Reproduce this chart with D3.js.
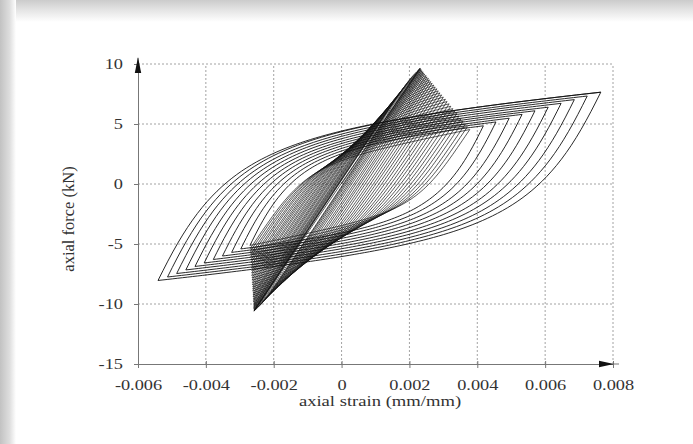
<!DOCTYPE html>
<html>
<head>
<meta charset="utf-8">
<script src="https://cdn.jsdelivr.net/npm/d3@7"></script>
<style>
  body { margin: 0; background: #fff; }
  svg { display: block; }
  text { font-family: "Liberation Serif", "Times New Roman", serif; }
</style>
</head>
<body>
<svg id="chart" width="693" height="444"></svg>
<script>
// ---- axis ticks ----
const xTicks = [-0.006, -0.004, -0.002, 0, 0.002, 0.004, 0.006, 0.008];
const xTickLabels = ["-0.006", "-0.004", "-0.002", "0", "0.002", "0.004", "0.006", "0.008"];
const yTicks = [-15, -10, -5, 0, 5, 10];
const yTickLabels = ["-15", "-10", "-5", "0", "5", "10"];

// ---- reversal points of the stiff cycles (strain mm/mm, force kN) ----
const cycleUpperStrain = [0.00231, 0.00232, 0.00233, 0.00235, 0.00237, 0.00240, 0.00242, 0.00245, 0.00249, 0.00252,
  0.00256, 0.00259, 0.00263, 0.00267, 0.00272, 0.00276, 0.00281, 0.00285, 0.00290, 0.00295,
  0.00300, 0.00306, 0.00311, 0.00317, 0.00322, 0.00328, 0.00334, 0.00340, 0.00346, 0.00352,
  0.00358, 0.00365, 0.00371, 0.00378];
const cycleUpperForce = [9.65, 9.62, 9.57, 9.51, 9.43, 9.35, 9.25, 9.15, 9.04, 8.92,
  8.80, 8.67, 8.53, 8.39, 8.24, 8.08, 7.93, 7.76, 7.59, 7.42,
  7.24, 7.06, 6.87, 6.68, 6.48, 6.28, 6.08, 5.87, 5.66, 5.44,
  5.22, 5.00, 4.77, 4.54];
const cycleLowerStrain = [-0.00258, -0.00258, -0.00258, -0.00258, -0.00259, -0.00259, -0.00259, -0.00259, -0.00259, -0.00260,
  -0.00260, -0.00260, -0.00261, -0.00261, -0.00261, -0.00262, -0.00262, -0.00262, -0.00263, -0.00263,
  -0.00264, -0.00264, -0.00265, -0.00265, -0.00265, -0.00266, -0.00266, -0.00267, -0.00267, -0.00268,
  -0.00268, -0.00269, -0.00269, -0.00270];
const cycleLowerForce = [-10.60, -10.57, -10.52, -10.45, -10.37, -10.28, -10.18, -10.06, -9.95, -9.82,
  -9.69, -9.55, -9.40, -9.25, -9.09, -8.92, -8.75, -8.57, -8.39, -8.21,
  -8.01, -7.82, -7.62, -7.41, -7.20, -6.99, -6.77, -6.54, -6.32, -6.09,
  -5.85, -5.61, -5.37, -5.12];

// ---- reversal points of the growing-amplitude loops ----
const loopUpperStrain = [0.00418, 0.00455, 0.00494, 0.00532, 0.00570, 0.00609, 0.00647, 0.00686, 0.00724, 0.00764];
const loopUpperForce = [4.85, 5.17, 5.48, 5.80, 6.10, 6.40, 6.72, 7.03, 7.33, 7.65];
const loopLowerStrain = [-0.00297, -0.00324, -0.00351, -0.00378, -0.00405, -0.00432, -0.00459, -0.00486, -0.00513, -0.00541];
const loopLowerForce = [-5.41, -5.70, -6.00, -6.29, -6.58, -6.87, -7.16, -7.46, -7.75, -8.04];

// ---- branch stiffness (kN per unit strain) and transition sharpness ----
const cycleBranch = { E: 4141, Eh: 550, R: 2.4, k: 1.2 };
const loopBranch = { E: 5500, Eh: 250, R: 1.6, k: 0 };

const svg = d3.select("#chart");
const W = 693, H = 444;
const SERIF = "'Liberation Serif', 'Times New Roman', serif";
const FONT = 15;

// stretch a text horizontally to the wider print proportions
function widen(sel, f) {
  sel.each(function () {
    const w = this.getComputedTextLength();
    this.setAttribute("textLength", (w * f).toFixed(2));
    this.setAttribute("lengthAdjust", "spacingAndGlyphs");
  });
}

// ---- page frame shading ----
const defs = svg.append("defs");
const gTop = defs.append("linearGradient").attr("id", "shadeTop").attr("x1", 0).attr("y1", 0).attr("x2", 0).attr("y2", 1);
gTop.append("stop").attr("offset", 0).attr("stop-color", "#cbcbcb");
gTop.append("stop").attr("offset", 0.45).attr("stop-color", "#e4e4e4");
gTop.append("stop").attr("offset", 1).attr("stop-color", "#ffffff");
const gLeft = defs.append("linearGradient").attr("id", "shadeLeft").attr("x1", 0).attr("y1", 0).attr("x2", 1).attr("y2", 0);
gLeft.append("stop").attr("offset", 0).attr("stop-color", "#c2c2c2");
gLeft.append("stop").attr("offset", 0.6).attr("stop-color", "#dedede");
gLeft.append("stop").attr("offset", 1).attr("stop-color", "#ffffff");
svg.append("rect").attr("width", W).attr("height", H).attr("fill", "#fff");
svg.append("rect").attr("x", 0).attr("y", 0).attr("width", W).attr("height", 22).attr("fill", "url(#shadeTop)");
svg.append("rect").attr("x", 0).attr("y", 0).attr("width", 16).attr("height", H).attr("fill", "url(#shadeLeft)");

// ---- scales ----
const x = d3.scaleLinear().domain([-0.006, 0.008]).range([138, 613]);
const y = d3.scaleLinear().domain([-15, 10]).range([364, 64]);

// ---- dashed grid ----
const grid = svg.append("g").attr("stroke", "#8c8c8c").attr("stroke-width", 0.8).attr("stroke-dasharray", "2,2");
grid.selectAll(".gx").data(xTicks.slice(1)).join("line")
  .attr("x1", d => x(d)).attr("x2", d => x(d)).attr("y1", y(-15)).attr("y2", y(10));
grid.selectAll(".gy").data(yTicks.slice(1)).join("line")
  .attr("x1", x(-0.006)).attr("x2", x(0.008)).attr("y1", d => y(d)).attr("y2", d => y(d));

// ---- hysteresis branch between two reversal points ----
// elastic start, smooth transition onto a hardening line that reaches the target
function branchPoints(a, b, p) {
  const ds = b[0] - a[0], dF = b[1] - a[1];
  const Ds = Math.abs(ds), DF = Math.abs(dF);
  const xk = (DF - p.Eh * Ds) / (p.E - p.Eh);
  if (!(xk > 0) || Ds <= xk) return [a, b];
  const e = Ds / xk, bh = p.Eh / p.E, R = p.R + p.k / (e - 1 + 0.05);
  const sig = t => bh * t + (1 - bh) * t / Math.pow(1 + Math.pow(t, R), 1 / R);
  const se = sig(e);
  const pts = [];
  const n = 90;
  for (let i = 0; i <= n; i++) {
    const u = i / n;
    pts.push([a[0] + ds * u, a[1] + dF * sig(u * e) / se]);
  }
  return pts;
}

// reversal sequence: stiff cycles first, then the growing loops
const cycleSeq = [[0, 0]];
cycleUpperStrain.forEach((s, i) => {
  cycleSeq.push([s, cycleUpperForce[i]]);
  cycleSeq.push([cycleLowerStrain[i], cycleLowerForce[i]]);
});
const loopSeq = [cycleSeq[cycleSeq.length - 1]];
loopUpperStrain.forEach((s, i) => {
  loopSeq.push([s, loopUpperForce[i]]);
  loopSeq.push([loopLowerStrain[i], loopLowerForce[i]]);
});
loopSeq.push([loopUpperStrain[loopUpperStrain.length - 1], loopUpperForce[loopUpperForce.length - 1]]);

function tracePath(seq, p) {
  const out = [];
  for (let i = 0; i < seq.length - 1; i++) {
    const pts = branchPoints(seq[i], seq[i + 1], p);
    if (i > 0) pts.shift();
    out.push(...pts);
  }
  return out;
}

const line = d3.line().x(d => x(d[0])).y(d => y(d[1]));
const curves = svg.append("g").attr("fill", "none").attr("stroke", "#111").attr("stroke-linejoin", "round");
curves.append("path").attr("stroke-width", 0.9).attr("d", line(tracePath(loopSeq, loopBranch)));
curves.append("path").attr("stroke-width", 0.7).attr("d", line(tracePath(cycleSeq, cycleBranch)));

// ---- axes ----
const xAxis = svg.append("g").attr("transform", `translate(0,${y(-15)})`)
  .call(d3.axisBottom(x).tickValues(xTicks).tickFormat((d, i) => xTickLabels[i]).tickSize(4).tickSizeOuter(0));
xAxis.select(".domain").attr("stroke", "#777");
xAxis.selectAll(".tick line").attr("stroke", "#777").attr("y1", -3);
xAxis.selectAll(".tick text").attr("y", 26).attr("dy", 0).attr("font-size", FONT).attr("fill", "#333")
  .style("font-family", SERIF).call(widen, 1.22);

const yAxis = svg.append("g").attr("transform", `translate(${x(-0.006)},0)`)
  .call(d3.axisLeft(y).tickValues(yTicks).tickFormat((d, i) => yTickLabels[i]).tickSize(4).tickSizeOuter(0).tickPadding(11));
yAxis.select(".domain").attr("stroke", "#777");
yAxis.selectAll(".tick line").attr("stroke", "#777");
yAxis.selectAll(".tick text").attr("font-size", FONT).attr("fill", "#333")
  .style("font-family", SERIF).call(widen, 1.22);

// axis extensions and arrowheads
svg.append("line").attr("x1", x(0.008)).attr("x2", x(0.008) + 6).attr("y1", y(-15)).attr("y2", y(-15)).attr("stroke", "#777");
svg.append("line").attr("x1", x(-0.006)).attr("x2", x(-0.006)).attr("y1", y(10)).attr("y2", y(10) - 6).attr("stroke", "#777");
const ax = x(0.008), ay = y(-15);
svg.append("path").attr("d", `M${ax - 14},${ay - 3.2}L${ax + 1},${ay}L${ax - 14},${ay + 3.2}Z`).attr("fill", "#111");
const bx = x(-0.006), by = y(10);
svg.append("path").attr("d", `M${bx - 3.2},${by + 9}L${bx},${by - 7}L${bx + 3.2},${by + 9}Z`).attr("fill", "#111");

// ---- axis titles ----
svg.append("text").attr("x", 380).attr("y", 406).attr("text-anchor", "middle")
  .attr("font-size", FONT).attr("fill", "#333").text("axial strain (mm/mm)").call(widen, 1.24);
svg.append("text").attr("transform", "translate(74,219) rotate(-90)").attr("text-anchor", "middle")
  .attr("font-size", 16.5).attr("fill", "#333").text("axial force (kN)");
</script>
</body>
</html>
